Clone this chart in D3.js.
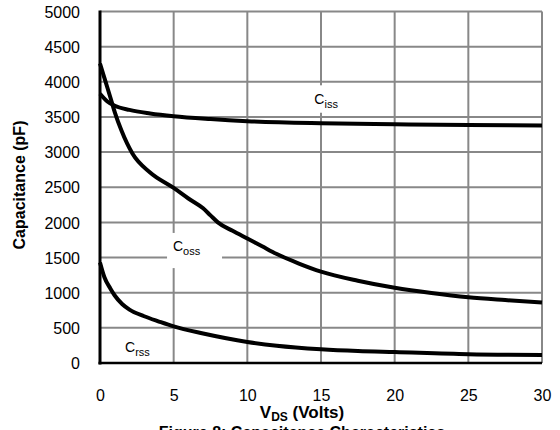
<!DOCTYPE html>
<html>
<head>
<meta charset="utf-8">
<script src="https://cdn.jsdelivr.net/npm/d3@7"></script>
<style>
  body { margin: 0; background: #fff; }
  svg { display: block; font-family: "Liberation Sans", Arial, sans-serif; }
</style>
</head>
<body>
<svg id="chart" width="560" height="430"></svg>
<script>
// ---- data ----
const xTicks = [0, 5, 10, 15, 20, 25, 30];
const yTicks = [0, 500, 1000, 1500, 2000, 2500, 3000, 3500, 4000, 4500, 5000];

const cissV = [0, 0.5, 1, 2, 3.4, 5, 7.5, 10, 15, 20, 25, 30];
const cissC = [3830, 3720, 3660, 3600, 3550, 3510, 3470, 3440, 3410, 3395, 3385, 3380];

const cossV = [0, 0.35, 0.7, 1, 1.45, 2.2, 3.4, 5, 6, 7, 7.5, 8, 9, 10, 11, 12, 13.5, 15, 17.5, 20, 22.5, 25, 27.5, 30];
const cossC = [4260, 4020, 3780, 3570, 3310, 2980, 2710, 2490, 2340, 2200, 2100, 2000, 1880, 1770, 1660, 1550, 1415, 1300, 1170, 1070, 995, 935, 895, 860];

const crssV = [0, 0.3, 0.7, 1, 1.5, 2, 3, 4, 5, 7, 10, 12, 15, 17.5, 20, 25, 30];
const crssC = [1430, 1220, 1060, 960, 840, 760, 665, 590, 520, 420, 300, 245, 195, 170, 155, 125, 115];

// ---- layout ----
const svg = d3.select("#chart");
const pLeft = 100, pRight = 542, pTop = 11.5, pBottom = 363;

const x = d3.scaleLinear().domain([0, 30]).range([pLeft, pRight]);
const y = d3.scaleLinear().domain([0, 5000]).range([pBottom, pTop]);

// grid
const grid = svg.append("g");
grid.selectAll("line.v").data(xTicks.filter(d => d > 0)).enter().append("line")
  .attr("x1", d => x(d)).attr("x2", d => x(d))
  .attr("y1", y(5000)).attr("y2", y(0))
  .attr("stroke", "#888").attr("stroke-width", 2);
grid.selectAll("line.h").data(yTicks.filter(d => d > 0)).enter().append("line")
  .attr("x1", x(0)).attr("x2", x(30))
  .attr("y1", d => y(d)).attr("y2", d => y(d))
  .attr("stroke", "#888").attr("stroke-width", 2);

// label backgrounds (break gridlines)
svg.append("rect").attr("x", x(14.5)).attr("y", y(3950)).attr("width", 34).attr("height", y(3560) - y(3950)).attr("fill", "#fff");
svg.append("rect").attr("x", x(4.55)).attr("y", y(1850)).attr("width", 55).attr("height", y(1350) - y(1850)).attr("fill", "#fff");

// axes
const xAxis = d3.axisBottom(x).tickValues(xTicks).tickSize(0).tickPadding(0).tickFormat(d3.format("d"));
const yAxis = d3.axisLeft(y).tickValues(yTicks).tickSize(0).tickPadding(0).tickFormat(d3.format("d"));

const gx = svg.append("g").attr("transform", `translate(0,${pBottom})`).call(xAxis);
gx.select(".domain").remove();
gx.selectAll("text").attr("font-size", 16).attr("fill", "#000")
  .attr("font-family", "Liberation Sans, Arial, sans-serif")
  .attr("dy", null).attr("y", 38);

const gy = svg.append("g").attr("transform", `translate(${pLeft},0)`).call(yAxis);
gy.select(".domain").remove();
gy.selectAll("text").attr("font-size", 16).attr("fill", "#000")
  .attr("font-family", "Liberation Sans, Arial, sans-serif")
  .attr("x", -20).attr("dy", "0.35em");

svg.append("line").attr("x1", pLeft).attr("x2", pLeft).attr("y1", pTop - 1).attr("y2", pBottom + 1.5)
  .attr("stroke", "#000").attr("stroke-width", 3);
svg.append("line").attr("x1", pLeft - 1.5).attr("x2", pRight).attr("y1", pBottom).attr("y2", pBottom)
  .attr("stroke", "#000").attr("stroke-width", 2.5);

// curves
const line = d3.line().x(d => x(d[0])).y(d => y(d[1])).curve(d3.curveMonotoneX);
const series = [
  d3.zip(cissV, cissC),
  d3.zip(cossV, cossC),
  d3.zip(crssV, crssC)
];
svg.selectAll("path.curve").data(series).enter().append("path")
  .attr("class", "curve")
  .attr("d", line).attr("fill", "none").attr("stroke", "#000").attr("stroke-width", 4)
  .attr("stroke-linejoin", "round");

// curve labels
function cLabel(xp, yp, sub) {
  const t = svg.append("text").attr("x", xp).attr("y", yp).attr("font-size", 14).attr("fill", "#000");
  t.append("tspan").text("C");
  t.append("tspan").attr("font-size", 11).attr("dy", 4).text(sub);
}
cLabel(x(14.55), y(3690), "iss");
cLabel(x(4.95), y(1600), "oss");
cLabel(x(1.7), y(150), "rss");

// axis titles
const xt = svg.append("text").attr("x", 302).attr("y", 418).attr("text-anchor", "middle")
  .attr("font-weight", "bold").attr("font-size", 17).attr("fill", "#000");
xt.append("tspan").text("V");
xt.append("tspan").attr("font-size", 12).attr("dy", 3).text("DS");
xt.append("tspan").attr("dy", -3).text(" (Volts)");

svg.append("text").attr("transform", "translate(25,185) rotate(-90)").attr("text-anchor", "middle")
  .attr("font-weight", "bold").attr("font-size", 16).attr("fill", "#000").text("Capacitance (pF)");

svg.append("text").attr("x", 302).attr("y", 438).attr("text-anchor", "middle")
  .attr("font-weight", "bold").attr("font-size", 16).attr("fill", "#000").text("Figure 8: Capacitance Characteristics");
</script>
</body>
</html>
